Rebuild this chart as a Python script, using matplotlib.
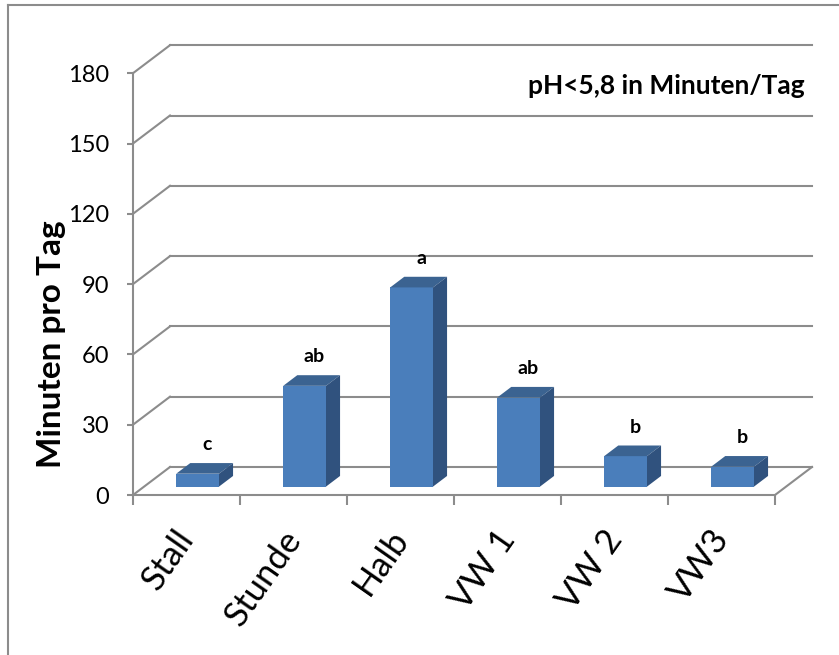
import matplotlib
matplotlib.use("Agg")
import matplotlib.pyplot as plt
from matplotlib.lines import Line2D

# ------------------------------------------------------------
# Daten
# ------------------------------------------------------------
kategorien = ["Stall", "Stunde", "Halb", "VW 1", "VW 2", "VW3"]
minuten = [5.5, 43, 85, 38, 13, 8.5]
buchstaben = ["c", "ab", "a", "ab", "b", "b"]
y_ticks = [0, 30, 60, 90, 120, 150, 180]

# ------------------------------------------------------------
# Stil / Geometrie der Pseudo-3D-Darstellung
# ------------------------------------------------------------
plt.rcParams["font.family"] = ["Lato", "DejaVu Sans"]

W, H, DPI = 839, 655, 100
grau = "#8C8C8C"
c_front = "#4A7EBB"
c_top = "#3B6391"
c_side = "#30527E"

px_x = 107.0            # Pixel pro Kategorie
px_y = 70.3 / 30.0      # Pixel pro Minute
DX = 37.0 / px_x        # Tiefenversatz x (Kategorien)
DY = 28.0 / px_y        # Tiefenversatz y (Minuten)
breite = 0.40           # Balkenbreite
f = 0.30                # Lage des Balkens in der Tiefe
tiefe = 0.38            # Balkentiefe (Anteil)

n = len(kategorien)
y_max = y_ticks[-1]

fig = plt.figure(figsize=(W / DPI, H / DPI), dpi=DPI)
x0_px, y0_px = 133, 495
ax_w = (n + DX) * px_x
ax_h = (y_max + DY) * px_y
ax = fig.add_axes([x0_px / W, (H - y0_px) / H, ax_w / W, ax_h / H])
ax.set_xlim(0, n + DX)
ax.set_ylim(0, y_max + DY)

for s in ["top", "right"]:
    ax.spines[s].set_visible(False)
ax.spines["left"].set_bounds(0, y_max)
ax.spines["bottom"].set_bounds(0, n)
for s in ["left", "bottom"]:
    ax.spines[s].set_color(grau)
    ax.spines[s].set_linewidth(1.5)

ax.set_yticks(y_ticks)
ax.set_yticklabels([str(t) for t in y_ticks])
ax.tick_params(axis="y", length=4, width=1.5, color=grau, pad=13, labelsize=17)
ax.set_xticks(range(n + 1))
ax.set_xticklabels([])
ax.tick_params(axis="x", length=7, width=1.5, color=grau)

# Gitterlinien (Seitenwand + Rueckwand) und Boden
for v in y_ticks:
    ax.plot([0, DX], [v, v + DY], color=grau, lw=1.5, zorder=1, clip_on=False)
    ax.plot([DX, n + DX], [v + DY, v + DY], color=grau, lw=1.5, zorder=1, clip_on=False)
ax.plot([n, n + DX], [0, DY], color=grau, lw=1.5, zorder=1, clip_on=False)

# Balken
for i, v in enumerate(minuten):
    xa = i + 0.5 - breite / 2 + f * DX
    ya = f * DY
    xb = xa + breite
    ddx, ddy = tiefe * DX, tiefe * DY
    ax.fill([xa, xb, xb, xa], [ya, ya, ya + v, ya + v], color=c_front, zorder=3, lw=0)
    ax.fill([xa, xb, xb + ddx, xa + ddx], [ya + v, ya + v, ya + v + ddy, ya + v + ddy],
            color=c_top, zorder=3, lw=0)
    ax.fill([xb, xb + ddx, xb + ddx, xb], [ya, ya + ddy, ya + v + ddy, ya + v],
            color=c_side, zorder=3, lw=0)
    ax.annotate(buchstaben[i], (i + 0.5 + f * DX, ya + v), xytext=(7, 17),
                textcoords="offset points", ha="center", va="baseline",
                fontsize=14, fontweight="bold", zorder=4)

# Kategoriebeschriftung
for i, k in enumerate(kategorien):
    ax.annotate(k, (i + 0.5, 0), xytext=(10, -21), textcoords="offset points",
                ha="right", va="top", rotation=55, fontsize=25)

fig.text(805 / W, 1 - 86 / H, "pH<5,8 in Minuten/Tag", ha="right", va="center",
         fontsize=19, fontweight="bold")
fig.text(52 / W, 1 - 344 / H, "Minuten pro Tag", ha="center", va="center",
         rotation=90, fontsize=24, fontweight="bold")

# Rahmen (links und oben sichtbar)
fig.add_artist(Line2D([8 / W, 8 / W], [0, 1 - 5 / H], color=grau, lw=1.5))
fig.add_artist(Line2D([8 / W, 1], [1 - 5 / H, 1 - 5 / H], color=grau, lw=1.5))

fig.savefig("out.png", dpi=DPI)
